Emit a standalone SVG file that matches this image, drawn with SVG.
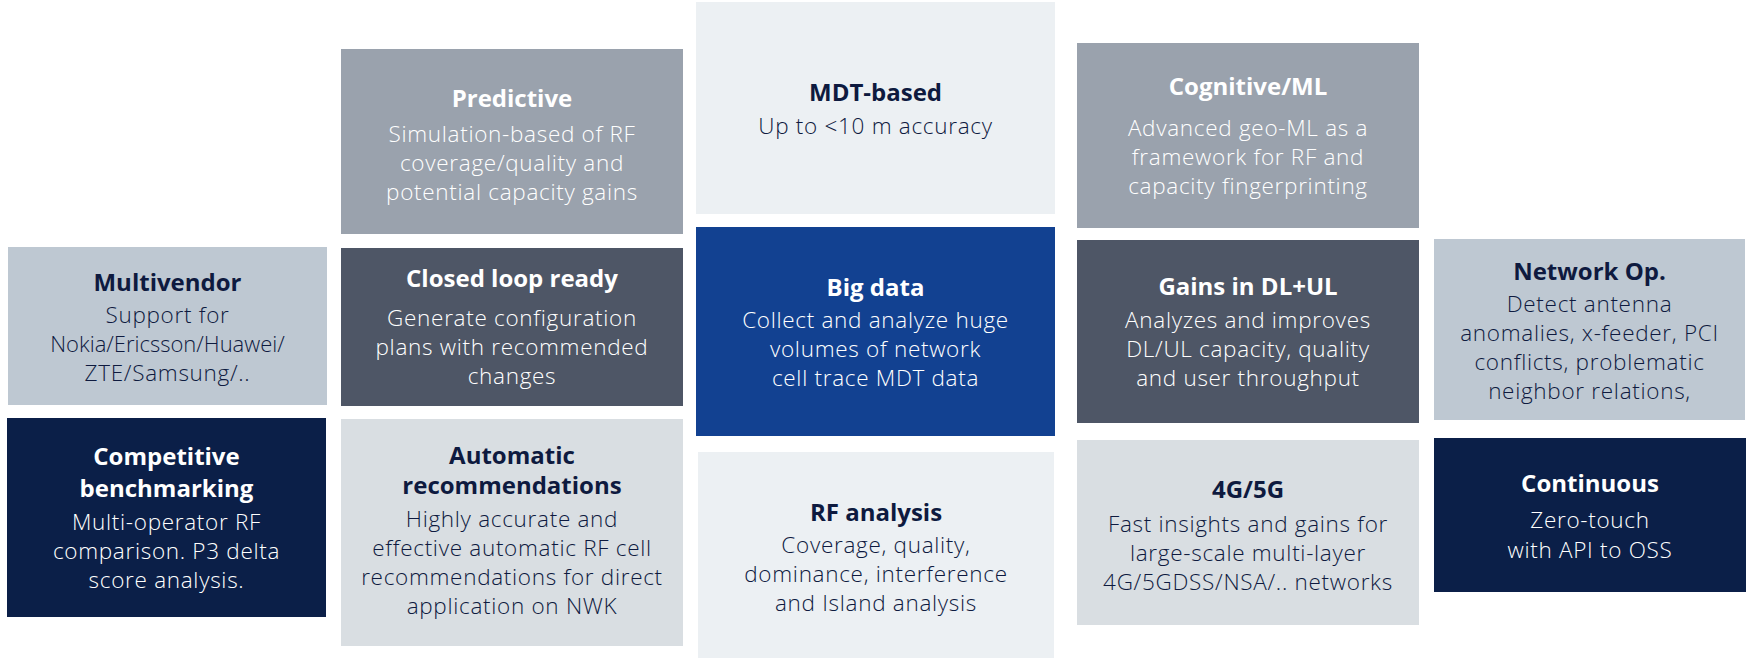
<svg xmlns="http://www.w3.org/2000/svg" width="1748" height="658" viewBox="0 0 1748 658">
  <style>
    .bg { fill: #ffffff; }
    .slate { fill: #9AA2AD; }
    .pale { fill: #ECF0F3; }
    .mist { fill: #BEC8D2; }
    .dark { fill: #4E5666; }
    .blue { fill: #124191; }
    .navy { fill: #0B1F48; }
    .light { fill: #D9DEE2; }
    text { font-family: "Open Sans", "Noto Sans", "Liberation Sans", sans-serif; text-anchor: middle; }
    .t { font-size: 24px; font-weight: 700; }
    .b { font-size: 22.5px; font-weight: 300; letter-spacing: 0.7px; }
    .tight { font-size: 22px; letter-spacing: 0; }
    .ink { fill: #0E1A3F; }
    .wht { fill: #FFFFFF; }
  </style>

  <rect class="bg" x="0" y="0" width="1748" height="658"/>

  <!-- column 1 -->
  <g id="multivendor">
    <rect class="mist" x="8" y="247" width="319" height="158"/>
    <text class="t ink" x="167.5" y="291">Multivendor</text>
    <text class="b ink" x="167.5" y="323">Support for</text>
    <text class="b tight ink" x="167.5" y="352">Nokia/Ericsson/Huawei/</text>
    <text class="b ink" x="167.5" y="381">ZTE/Samsung/..</text>
  </g>
  <g id="competitive">
    <rect class="navy" x="7" y="418" width="319" height="199"/>
    <text class="t wht" x="166.5" y="465">Competitive</text>
    <text class="t wht" x="166.5" y="497">benchmarking</text>
    <text class="b wht" x="166.5" y="530">Multi-operator RF</text>
    <text class="b wht" x="166.5" y="559">comparison. P3 delta</text>
    <text class="b wht" x="166.5" y="588">score analysis.</text>
  </g>

  <!-- column 2 -->
  <g id="predictive">
    <rect class="slate" x="341" y="49" width="342" height="185"/>
    <text class="t wht" x="512" y="107">Predictive</text>
    <text class="b wht" x="512" y="142">Simulation-based of RF</text>
    <text class="b wht" x="512" y="171">coverage/quality and</text>
    <text class="b wht" x="512" y="200">potential capacity gains</text>
  </g>
  <g id="closed-loop">
    <rect class="dark" x="341" y="248" width="342" height="158"/>
    <text class="t wht" x="512" y="287">Closed loop ready</text>
    <text class="b wht" x="512" y="326">Generate configuration</text>
    <text class="b wht" x="512" y="355">plans with recommended</text>
    <text class="b wht" x="512" y="384">changes</text>
  </g>
  <g id="automatic">
    <rect class="light" x="341" y="419" width="342" height="227"/>
    <text class="t ink" x="512" y="464">Automatic</text>
    <text class="t ink" x="512" y="494">recommendations</text>
    <text class="b ink" x="512" y="527">Highly accurate and</text>
    <text class="b ink" x="512" y="556">effective automatic RF cell</text>
    <text class="b ink" x="512" y="585">recommendations for direct</text>
    <text class="b ink" x="512" y="614">application on NWK</text>
  </g>

  <!-- column 3 -->
  <g id="mdt-based">
    <rect class="pale" x="696" y="2" width="359" height="212"/>
    <text class="t ink" x="875.5" y="101">MDT-based</text>
    <text class="b ink" x="875.5" y="134">Up to &lt;10 m accuracy</text>
  </g>
  <g id="big-data">
    <rect class="blue" x="696" y="227" width="359" height="209"/>
    <text class="t wht" x="875.5" y="296">Big data</text>
    <text class="b wht" x="875.5" y="328">Collect and analyze huge</text>
    <text class="b wht" x="875.5" y="357">volumes of network</text>
    <text class="b wht" x="875.5" y="386">cell trace MDT data</text>
  </g>
  <g id="rf-analysis">
    <rect class="pale" x="698" y="452" width="356" height="206"/>
    <text class="t ink" x="876" y="521">RF analysis</text>
    <text class="b ink" x="876" y="553">Coverage, quality,</text>
    <text class="b ink" x="876" y="582">dominance, interference</text>
    <text class="b ink" x="876" y="611">and Island analysis</text>
  </g>

  <!-- column 4 -->
  <g id="cognitive-ml">
    <rect class="slate" x="1077" y="43" width="342" height="185"/>
    <text class="t wht" x="1248" y="95">Cognitive/ML</text>
    <text class="b wht" x="1248" y="136">Advanced geo-ML as a</text>
    <text class="b wht" x="1248" y="165">framework for RF and</text>
    <text class="b wht" x="1248" y="194">capacity fingerprinting</text>
  </g>
  <g id="gains">
    <rect class="dark" x="1077" y="240" width="342" height="183"/>
    <text class="t wht" x="1248" y="295">Gains in DL+UL</text>
    <text class="b wht" x="1248" y="328">Analyzes and improves</text>
    <text class="b wht" x="1248" y="357">DL/UL capacity, quality</text>
    <text class="b wht" x="1248" y="386">and user throughput</text>
  </g>
  <g id="g4-5g">
    <rect class="light" x="1077" y="440" width="342" height="185"/>
    <text class="t ink" x="1248" y="498">4G/5G</text>
    <text class="b ink" x="1248" y="532">Fast insights and gains for</text>
    <text class="b ink" x="1248" y="561">large-scale multi-layer</text>
    <text class="b ink" x="1248" y="590">4G/5GDSS/NSA/.. networks</text>
  </g>

  <!-- column 5 -->
  <g id="network-op">
    <rect class="mist" x="1434" y="239" width="311" height="181"/>
    <text class="t ink" x="1589.5" y="280">Network Op.</text>
    <text class="b ink" x="1589.5" y="312">Detect antenna</text>
    <text class="b ink" x="1589.5" y="341">anomalies, x-feeder, PCI</text>
    <text class="b ink" x="1589.5" y="370">conflicts, problematic</text>
    <text class="b ink" x="1589.5" y="399">neighbor relations,</text>
  </g>
  <g id="continuous">
    <rect class="navy" x="1434" y="438" width="312" height="154"/>
    <text class="t wht" x="1590" y="492">Continuous</text>
    <text class="b wht" x="1590" y="528">Zero-touch</text>
    <text class="b wht" x="1590" y="558">with API to OSS</text>
  </g>

  <!-- no connectors in this layout -->
  <g id="connectors"/>
</svg>
